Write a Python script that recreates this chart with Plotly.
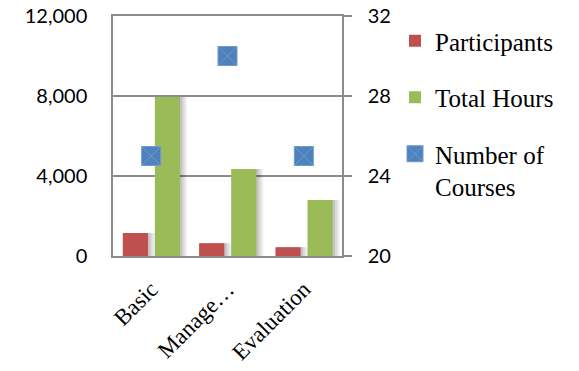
import plotly.graph_objects as go

# Training programme summary
categories = ["Basic", "Manage…", "Evaluation"]
participants = [1150, 640, 440]
total_hours = [7950, 4350, 2800]
num_courses = [25, 30, 25]

left_ticks = [0, 4000, 8000, 12000]
left_tick_text = ["0", "4,000", "8,000", "12,000"]
right_ticks = [20, 24, 28, 32]

RED = "#C0504D"
GREEN = "#9BBB59"
BLUE = "#4F81BD"
GRID = "#8C8C8C"

W, H = 579, 371
BAR_W = 0.33
RED_OFF = -0.372
GREEN_OFF = 0.048

fig = go.Figure()

# soft drop shadows behind the bars
for shift, alpha in [(0.09, 0.07), (0.06, 0.08), (0.03, 0.10)]:
    for vals, off in [(participants, RED_OFF), (total_hours, GREEN_OFF)]:
        fig.add_trace(go.Bar(
            x=categories, y=vals, width=BAR_W, offset=off + shift,
            marker=dict(color=f"rgba(0,0,0,{alpha})", line_width=0),
            showlegend=False, hoverinfo="skip",
        ))

fig.add_trace(go.Bar(
    x=categories, y=participants, name="Participants",
    width=BAR_W, offset=RED_OFF,
    marker=dict(color=RED, line_width=0),
    legendgroup="a",
))
fig.add_trace(go.Bar(
    x=categories, y=total_hours, name="Total Hours",
    width=BAR_W, offset=GREEN_OFF,
    marker=dict(color=GREEN, line_width=0),
    legendgroup="b",
))
fig.add_trace(go.Scatter(
    x=categories, y=num_courses, name="Number of<br>Courses",
    mode="markers", yaxis="y2",
    marker=dict(symbol="square-x", size=19, color=BLUE,
                line=dict(color="#6E9AD0", width=1)),
    legendgroup="c",
))

fig.update_layout(
    width=W, height=H,
    margin=dict(l=113, r=237, t=16, b=115, autoexpand=False),
    paper_bgcolor="white", plot_bgcolor="white",
    barmode="overlay",
    xaxis=dict(
        type="category", automargin=False,
        tickangle=-45,
        tickfont=dict(family="Liberation Serif", size=23, color="black"),
        showgrid=False, ticks="",
        showline=True, mirror=True, linecolor=GRID, linewidth=1.5,
        ticklabelstandoff=9,
    ),
    yaxis=dict(
        range=[0, 12000], tickvals=left_ticks, ticktext=left_tick_text,
        automargin=False,
        showgrid=True, gridcolor=GRID, gridwidth=1.5,
        showline=True, linecolor=GRID, linewidth=1.5,
        zeroline=False, ticks="",
        tickfont=dict(family="Lato", size=20, color="black"),
        ticklabelstandoff=20,
    ),
    yaxis2=dict(
        range=[20, 32], tickvals=right_ticks,
        overlaying="y", side="right", automargin=False,
        showgrid=False, zeroline=False,
        showline=True, linecolor=GRID, linewidth=1.5,
        ticks="outside", ticklen=8, tickcolor=GRID, tickwidth=1.5,
        tickfont=dict(family="Lato", size=20, color="black"),
        ticklabelstandoff=12,
    ),
    legend=dict(
        xref="container", yref="container",
        x=395 / W, y=1 - 18 / H, xanchor="left", yanchor="top",
        font=dict(family="Liberation Serif", size=25, color="black"),
        traceorder="grouped", tracegroupgap=21, valign="top",
        bgcolor="rgba(0,0,0,0)", maxheight=H,
    ),
    showlegend=True,
)

fig.write_html("out.html")
